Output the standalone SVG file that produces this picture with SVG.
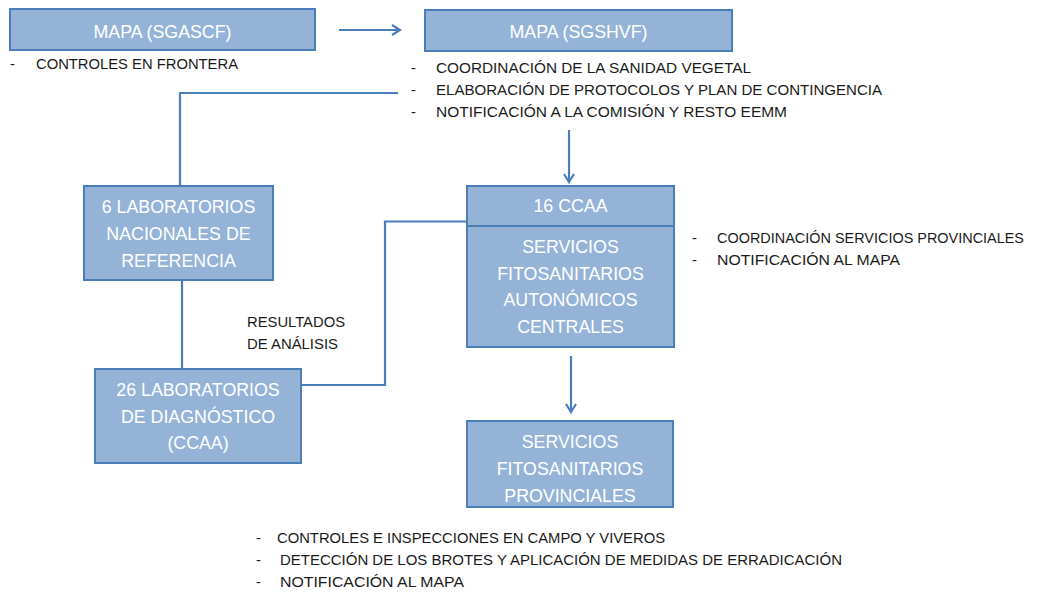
<svg xmlns="http://www.w3.org/2000/svg" width="1037" height="595" viewBox="0 0 1037 595">
<defs>
<marker id="chev" viewBox="0 0 12 12" refX="10" refY="6" markerWidth="12" markerHeight="12" markerUnits="userSpaceOnUse" orient="auto">
<path d="M2,1 L10,6 L2,11" fill="none" stroke="#4a7ebb" stroke-width="2.2"/>
</marker>
<style>
.box{fill:#95b3d7;stroke:#4a7ebb;stroke-width:2}
.bt{font-family:"Liberation Sans",Arial,sans-serif;font-size:17.8px;fill:#ffffff;text-anchor:middle}
.nt{font-family:"Liberation Sans",Arial,sans-serif;font-size:14.8px;fill:#1a1a1a}
.con{fill:none;stroke:#4a7ebb;stroke-width:2.2}
.arr{fill:none;stroke:#4a7ebb;stroke-width:2.2;marker-end:url(#chev)}
</style>
</defs>
<rect width="1037" height="595" fill="#ffffff"/>

<g id="connectors">
<line class="arr" x1="339" y1="30" x2="400" y2="30"/>
<line class="arr" x1="569" y1="130" x2="569" y2="182"/>
<line class="arr" x1="571" y1="356" x2="571" y2="412"/>
<polyline class="con" points="398,93 180,93 180,186"/>
<line class="con" x1="182" y1="280" x2="182" y2="369"/>
<polyline class="con" points="301,385 385,385 385,221.5 467,221.5"/>
</g>

<g id="mapa-sgascf">
<rect class="box" x="10" y="9" width="305" height="41"/>
<text class="bt" x="162.5" y="38">MAPA (SGASCF)</text>
</g>

<g id="mapa-sgshvf">
<rect class="box" x="425" y="10" width="307" height="41"/>
<text class="bt" x="578.5" y="38">MAPA (SGSHVF)</text>
</g>

<g id="lab-nacionales">
<rect class="box" x="84" y="186" width="189" height="94"/>
<text class="bt" x="178.5" y="213">6 LABORATORIOS</text>
<text class="bt" x="178.5" y="240">NACIONALES DE</text>
<text class="bt" x="178.5" y="267">REFERENCIA</text>
</g>

<g id="lab-diagnostico">
<rect class="box" x="95" y="369" width="206" height="94"/>
<text class="bt" x="198" y="396">26 LABORATORIOS</text>
<text class="bt" x="198" y="423">DE DIAGNÓSTICO</text>
<text class="bt" x="198" y="449">(CCAA)</text>
</g>

<g id="ccaa">
<rect class="box" x="467" y="186" width="207" height="161"/>
<line x1="467" y1="226" x2="674" y2="226" stroke="#4a7ebb" stroke-width="2"/>
<text class="bt" x="570.5" y="212">16 CCAA</text>
<text class="bt" x="570.5" y="253">SERVICIOS</text>
<text class="bt" x="570.5" y="279.5">FITOSANITARIOS</text>
<text class="bt" x="570.5" y="306">AUTONÓMICOS</text>
<text class="bt" x="570.5" y="332.5">CENTRALES</text>
</g>

<g id="provinciales">
<rect class="box" x="467" y="421" width="206" height="86"/>
<text class="bt" x="570" y="448">SERVICIOS</text>
<text class="bt" x="570" y="475">FITOSANITARIOS</text>
<text class="bt" x="570" y="502">PROVINCIALES</text>
</g>

<g id="notes">
<text class="nt" x="10" y="69">-</text>
<text class="nt" x="36" y="69" textLength="202" lengthAdjust="spacingAndGlyphs">CONTROLES EN FRONTERA</text>

<text class="nt" x="411" y="73">-</text>
<text class="nt" x="436" y="73" textLength="315" lengthAdjust="spacingAndGlyphs">COORDINACIÓN DE LA SANIDAD VEGETAL</text>
<text class="nt" x="411" y="95">-</text>
<text class="nt" x="436" y="95" textLength="446" lengthAdjust="spacingAndGlyphs">ELABORACIÓN DE PROTOCOLOS Y PLAN DE CONTINGENCIA</text>
<text class="nt" x="411" y="117">-</text>
<text class="nt" x="436" y="117" textLength="351" lengthAdjust="spacingAndGlyphs">NOTIFICACIÓN A LA COMISIÓN Y RESTO EEMM</text>

<text class="nt" x="692" y="243">-</text>
<text class="nt" x="717" y="243" style="font-size:14.4px" textLength="307" lengthAdjust="spacingAndGlyphs">COORDINACIÓN SERVICIOS PROVINCIALES</text>
<text class="nt" x="692" y="265">-</text>
<text class="nt" x="717" y="265" textLength="183" lengthAdjust="spacingAndGlyphs">NOTIFICACIÓN AL MAPA</text>

<text class="nt" x="247" y="327" textLength="98" lengthAdjust="spacingAndGlyphs">RESULTADOS</text>
<text class="nt" x="247" y="349" textLength="91" lengthAdjust="spacingAndGlyphs">DE ANÁLISIS</text>

<text class="nt" x="256" y="543">-</text>
<text class="nt" x="277" y="543" textLength="388" lengthAdjust="spacingAndGlyphs">CONTROLES E INSPECCIONES EN CAMPO Y VIVEROS</text>
<text class="nt" x="256" y="565">-</text>
<text class="nt" x="280" y="565" textLength="562" lengthAdjust="spacingAndGlyphs">DETECCIÓN DE LOS BROTES Y APLICACIÓN DE MEDIDAS DE ERRADICACIÓN</text>
<text class="nt" x="256" y="587">-</text>
<text class="nt" x="280" y="587" textLength="184" lengthAdjust="spacingAndGlyphs">NOTIFICACIÓN AL MAPA</text>
</g>
</svg>
